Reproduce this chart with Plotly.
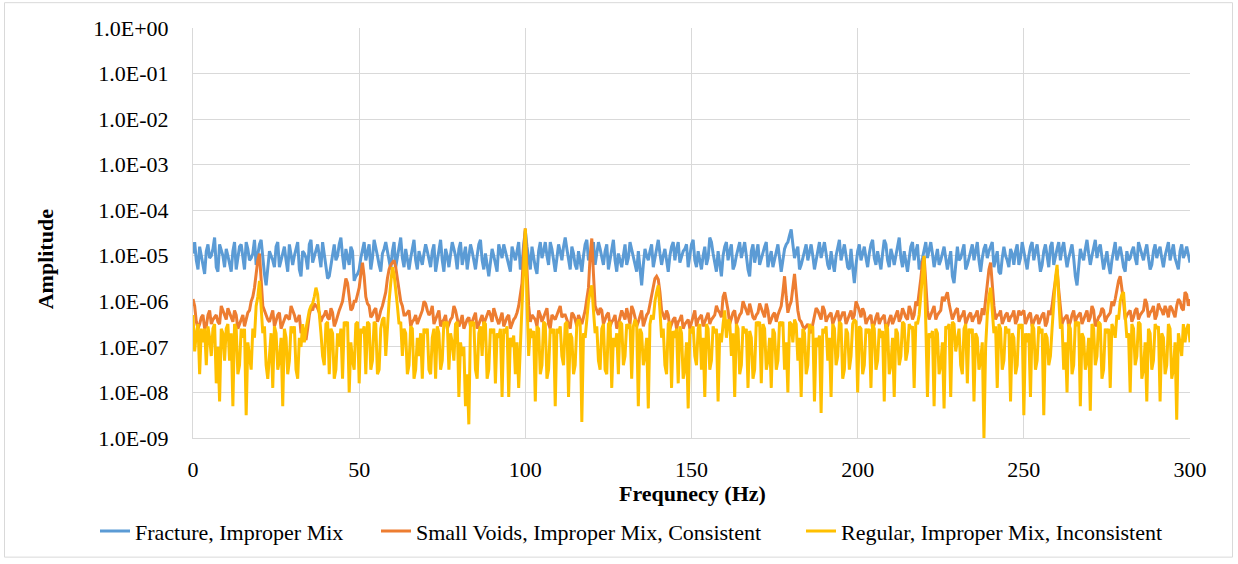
import plotly.graph_objects as go

# Frequency samples (Hz): whole-Hz and half-Hz positions
freq_whole = list(range(0, 301))
freq_half = [i + 0.5 for i in range(0, 300)]

# log10(amplitude) values, at whole-Hz positions
fracture_whole = [
-4.95,-5.1,-4.8,-5.2,-4.9,-5.05,-4.85,-5.25,-4.75,-5.0,
-4.85,-5.15,-4.9,-5.3,-4.8,-5.05,-4.7,-5.1,-4.95,-5.2,
-4.75,-5.05,-5.65,-4.9,-5.1,-4.8,-5.25,-4.95,-5.1,-4.75,
-5.2,-4.85,-5.3,-4.9,-5.05,-4.75,-5.15,-4.85,-5.0,-4.7,
-5.25,-5.45,-4.9,-5.1,-4.75,-5.0,-4.85,-5.2,-4.9,-5.45,
-5.3,-4.85,-5.1,-4.75,-5.05,-4.8,-5.2,-4.95,-4.7,-5.1,
-4.9,-5.25,-4.75,-5.05,-4.85,-5.3,-4.8,-5.1,-4.9,-5.2,
-4.75,-5.05,-4.9,-5.35,-4.8,-5.1,-4.85,-5.25,-4.7,-5.0,
-4.85,-5.2,-4.8,-5.05,-4.9,-5.3,-4.75,-5.1,-4.95,-5.45,
-4.85,-5.15,-4.75,-5.05,-4.9,-5.25,-4.8,-5.1,-4.7,-5.2,
-4.45,-5.1,-4.8,-5.25,-4.9,-5.05,-4.7,-5.2,-4.85,-5.35,
-4.75,-5.1,-4.6,-5.05,-4.8,-5.2,-4.9,-5.35,-4.75,-5.1,
-4.85,-5.2,-4.7,-5.0,-4.9,-5.3,-4.8,-5.1,-4.95,-5.25,
-4.75,-5.05,-4.85,-5.2,-4.9,-5.65,-4.85,-5.1,-4.75,-5.05,
-4.65,-5.2,-4.85,-5.35,-4.8,-5.1,-4.7,-5.0,-4.85,-5.25,
-4.75,-5.1,-4.9,-5.3,-4.8,-5.05,-4.7,-5.2,-4.9,-5.45,
-4.8,-5.1,-4.75,-5.2,-4.85,-5.05,-4.7,-5.3,-4.9,-5.15,
-4.75,-5.05,-4.8,-5.25,-4.9,-5.1,-4.75,-5.35,-4.85,-4.7,
-4.42,-5.05,-4.8,-5.2,-4.9,-5.1,-4.75,-5.3,-4.85,-5.05,
-4.7,-5.2,-4.9,-5.35,-4.8,-5.1,-4.75,-5.25,-4.85,-5.6,
-4.9,-5.1,-4.8,-5.25,-4.75,-5.05,-4.9,-5.3,-4.65,-5.1,
-4.85,-5.2,-4.75,-5.05,-4.9,-5.35,-4.8,-5.1,-4.75,-5.2,
-4.9,-5.05,-4.7,-5.25,-4.85,-5.1,-4.8,-5.3,-4.9,-5.6,
-4.8,-5.05,-4.75,-5.2,-4.9,-5.1,-4.7,-5.35,-4.85,-5.05,
-4.8,-5.25,-4.9,-5.4,-4.8,-5.1,-4.85,-5.2,-4.75,-5.05,
-4.9,-5.3,-4.8,-5.1,-4.75,-5.35,-4.9,-5.05,-4.8,-5.2,
-4.85,-5.1,-4.7,-5.25,-4.9,-5.05,-5.65,-4.85,-5.1,-4.65,
-5.2,-4.8,-5.05,-4.75,-5.3,-4.9,-5.4,-4.85,-5.1,-4.8,
-5.25,-4.9,-5.05,-4.8,-5.2,-4.85,-5.1,-4.75,-5.3,-4.9,
-5.05,-4.8,-5.25,-4.85,-5.1,-4.75,-5.2,-4.9,-5.05,-4.8,
-5.15]

# log10(amplitude) at half-Hz positions (0.5, 1.5, ... 299.5)
fracture_half = [
-4.7,-5.3,-5.0,-5.4,-4.75,-5.0,-4.6,-5.35,-4.9,-5.25,
-5.0,-5.35,-4.7,-5.05,-4.75,-5.3,-4.85,-5.05,-4.65,-4.95,
-4.65,-5.4,-5.3,-5.0,-5.25,-4.7,-5.1,-4.8,-5.35,-4.95,
-5.0,-4.7,-5.45,-4.95,-5.3,-4.65,-5.0,-4.75,-5.25,-4.95,
-5.5,-5.2,-4.75,-5.0,-4.6,-5.3,-5.0,-4.8,-5.55,-5.4,
-5.05,-4.7,-4.9,-5.3,-4.65,-5.0,-5.35,-4.85,-4.9,-5.3,
-4.7,-5.0,-4.6,-5.25,-5.1,-5.05,-4.65,-5.3,-5.05,-4.95,
-4.9,-5.25,-4.75,-5.1,-4.65,-5.35,-5.0,-4.95,-4.85,-5.3,
-4.7,-5.0,-5.3,-4.75,-5.1,-5.0,-4.65,-5.3,-5.2,-5.15,
-5.0,-5.35,-4.9,-4.75,-5.1,-5.35,-4.95,-4.9,-5.3,-4.75,
-4.8,-5.3,-5.05,-5.4,-4.7,-4.9,-5.0,-4.7,-5.1,-5.05,
-4.9,-4.8,-4.85,-5.3,-4.95,-5.3,-5.1,-5.0,-4.65,-5.0,
-4.7,-4.95,-4.85,-5.2,-4.75,-5.05,-4.65,-5.35,-5.1,-5.0,
-5.2,-4.7,-5.0,-5.35,-5.3,-5.2,-5.0,-4.9,-5.25,-4.85,
-4.95,-5.0,-5.1,-5.0,-4.7,-4.85,-5.15,-4.9,-4.75,-5.0,
-4.65,-5.25,-5.1,-5.0,-5.2,-4.6,-4.95,-5.35,-5.2,-5.0,
-4.7,-4.9,-5.3,-5.0,-4.7,-4.85,-5.0,-5.45,-4.75,-4.95,
-5.2,-4.95,-4.7,-5.05,-5.25,-4.9,-5.05,-5.1,-4.75,-4.55,
-4.75,-4.9,-5.3,-5.05,-4.75,-4.95,-5.0,-5.1,-4.7,-4.9,
-4.95,-5.3,-5.15,-5.0,-4.65,-4.9,-5.0,-5.3,-5.25,-5.2,
-4.75,-4.95,-5.05,-4.95,-4.65,-5.2,-5.1,-4.95,-4.75,-5.25,
-5.0,-5.0,-4.6,-5.25,-5.1,-5.05,-4.7,-4.9,-5.3,-5.05,
-4.7,-4.85,-4.95,-5.05,-5.2,-4.95,-5.05,-5.1,-5.45,-5.2,
-5.1,-4.9,-5.3,-5.05,-4.75,-4.85,-5.1,-5.05,-4.75,-4.9,
-4.7,-5.05,-5.35,-5.05,-5.0,-5.25,-4.95,-4.9,-5.2,-4.7,
-5.1,-5.0,-4.7,-4.9,-5.05,-5.2,-4.75,-5.25,-4.7,-5.0,
-4.7,-4.85,-5.0,-5.05,-4.75,-5.45,-5.25,-5.0,-4.85,-4.95,
-5.0,-4.65,-4.85,-5.05,-5.1,-5.2,-5.1,-4.7,-4.95,-5.0,
-5.35,-5.1,-4.9,-5.05,-4.7,-5.0,-4.9,-5.05,-5.2,-4.75,
-4.9,-5.05,-5.0,-4.7,-4.95,-5.05,-5.3,-4.75,-4.95,-5.0]

small_voids_whole = [
-5.95,-6.45,-6.5,-6.3,-6.55,-6.2,-6.4,-6.3,-6.5,-6.2,
-6.4,-6.25,-6.45,-6.3,-6.5,-6.3,-6.4,-6.2,-5.9,-5.4,
-4.95,-6.1,-6.3,-6.45,-6.2,-6.4,-6.25,-6.5,-6.3,-6.4,
-6.2,-6.45,-6.3,-6.6,-6.85,-6.3,-6.2,-6.1,-6.25,-6.35,
-6.2,-6.4,-6.25,-6.45,-6.2,-6.0,-5.5,-5.9,-6.15,-6.0,
-5.7,-5.15,-5.9,-6.1,-6.3,-6.15,-6.35,-6.1,-5.8,-5.3,
-5.15,-5.25,-5.75,-6.1,-6.3,-6.2,-6.45,-6.3,-6.4,-6.2,
-6.05,-6.3,-6.1,-6.4,-6.2,-6.45,-6.3,-6.5,-6.35,-6.2,
-6.55,-6.3,-6.5,-6.35,-6.45,-6.25,-6.5,-6.3,-6.4,-6.2,
-6.45,-6.3,-6.5,-6.25,-6.45,-6.3,-6.5,-6.35,-6.1,-5.6,
-4.4,-6.1,-6.3,-6.4,-6.2,-6.45,-6.25,-6.5,-6.3,-6.4,
-6.2,-6.35,-6.3,-6.5,-6.25,-6.4,-6.3,-6.5,-6.2,-5.7,
-4.62,-6.1,-6.3,-6.2,-6.4,-6.25,-6.45,-6.3,-6.5,-6.2,
-6.4,-6.3,-6.1,-6.35,-6.45,-6.2,-6.4,-6.25,-5.9,-5.5,
-5.52,-6.2,-6.4,-6.3,-6.5,-6.35,-6.45,-6.3,-6.5,-6.4,
-6.45,-6.2,-6.4,-6.3,-6.45,-6.25,-6.4,-6.3,-6.2,-6.35,
-5.8,-6.2,-6.35,-6.2,-6.4,-6.25,-6.1,-6.3,-6.2,-6.4,
-6.25,-6.15,-6.35,-6.2,-6.4,-6.25,-6.3,-6.1,-5.45,-6.25,
-6.0,-5.4,-6.2,-6.45,-6.6,-6.5,-6.7,-6.3,-6.2,-6.4,
-6.2,-6.35,-6.25,-6.4,-6.2,-6.35,-6.25,-6.4,-6.2,-6.3,
-6.1,-6.35,-6.25,-6.4,-6.3,-6.5,-6.25,-6.4,-6.3,-6.55,
-6.3,-6.4,-6.2,-6.35,-6.25,-6.4,-6.2,-6.3,-6.1,-5.5,
-5.02,-6.2,-6.3,-6.1,-6.3,-6.2,-6.0,-5.8,-6.2,-6.3,
-6.15,-6.35,-6.2,-6.4,-6.25,-6.35,-6.2,-6.4,-6.3,-5.6,
-5.15,-6.1,-6.3,-6.2,-6.4,-6.25,-6.35,-6.2,-6.4,-6.3,
-6.2,-6.4,-6.25,-6.45,-6.3,-6.4,-6.25,-6.45,-6.3,-5.8,
-5.3,-6.2,-6.4,-6.3,-6.45,-6.2,-6.35,-6.25,-6.4,-6.2,
-6.35,-6.2,-6.45,-6.3,-6.2,-6.35,-6.25,-6.1,-5.7,-5.45,
-6.0,-6.3,-6.2,-6.35,-6.15,-6.3,-6.2,-6.05,-6.25,-6.1,
-6.3,-6.15,-6.3,-6.2,-6.1,-6.25,-6.1,-6.0,-6.2,-5.85,
-5.95]

small_voids_half = [
-6.1,-6.6,-6.35,-6.6,-6.3,-6.5,-6.35,-6.45,-6.1,-6.3,
-6.15,-6.35,-6.2,-6.6,-6.4,-6.55,-6.25,-6.0,-5.7,-5.1,
-5.6,-6.2,-6.4,-6.3,-6.55,-6.3,-6.6,-6.4,-6.35,-6.1,
-6.3,-6.4,-6.7,-6.75,-6.6,-6.15,-6.05,-6.15,-6.45,-6.3,
-6.35,-6.15,-6.55,-6.3,-6.1,-5.75,-5.6,-6.2,-6.0,-5.85,
-5.4,-5.45,-6.05,-6.35,-6.2,-6.45,-6.2,-5.95,-5.5,-5.2,
-5.1,-5.5,-6.0,-6.3,-6.25,-6.55,-6.4,-6.5,-6.3,-6.0,
-6.2,-6.25,-6.5,-6.3,-6.55,-6.4,-6.6,-6.4,-6.1,-6.4,
-6.45,-6.6,-6.4,-6.55,-6.35,-6.6,-6.4,-6.5,-6.3,-6.3,
-6.15,-6.4,-6.35,-6.55,-6.35,-6.6,-6.4,-6.25,-5.85,-4.9,
-5.3,-6.45,-6.35,-6.55,-6.3,-6.35,-6.15,-6.6,-6.35,-6.3,
-6.1,-6.3,-6.4,-6.6,-6.3,-6.55,-6.4,-6.35,-5.95,-5.0,
-5.4,-6.2,-6.15,-6.5,-6.3,-6.55,-6.4,-6.6,-6.35,-6.3,
-6.15,-6.5,-6.2,-6.55,-6.3,-6.55,-6.3,-6.05,-5.7,-5.45,
-5.8,-6.3,-6.2,-6.6,-6.4,-6.6,-6.4,-6.6,-6.45,-6.6,
-6.3,-6.55,-6.35,-6.55,-6.35,-6.5,-6.35,-6.1,-6.25,-5.9,
-6.0,-6.5,-6.25,-6.5,-6.3,-6.0,-6.2,-6.05,-6.35,-6.3,
-6.05,-6.25,-6.05,-6.5,-6.3,-6.45,-6.2,-5.8,-5.9,-6.1,
-5.7,-5.8,-6.4,-6.55,-6.55,-6.6,-6.5,-6.15,-6.3,-6.1,
-6.45,-6.3,-6.5,-6.3,-6.45,-6.25,-6.5,-6.3,-6.4,-6.0,
-6.2,-6.15,-6.5,-6.35,-6.6,-6.35,-6.5,-6.35,-6.6,-6.4,
-6.5,-6.3,-6.45,-6.15,-6.35,-6.1,-6.4,-6.0,-5.85,-5.15,
-5.6,-6.4,-6.2,-6.4,-6.25,-5.9,-5.9,-6.05,-6.4,-6.2,
-6.45,-6.3,-6.5,-6.3,-6.45,-6.3,-6.5,-6.15,-5.95,-5.3,
-5.65,-6.4,-6.3,-6.5,-6.3,-6.45,-6.3,-6.5,-6.2,-6.25,
-6.5,-6.3,-6.55,-6.35,-6.5,-6.3,-6.55,-6.2,-6.1,-5.5,
-5.75,-6.5,-6.35,-6.55,-6.3,-6.45,-6.3,-6.5,-6.3,-6.45,
-6.1,-6.55,-6.35,-6.15,-6.45,-6.3,-6.0,-5.95,-5.55,-5.7,
-6.4,-6.25,-6.45,-6.2,-6.4,-6.25,-5.95,-6.35,-6.2,-6.4,
-6.05,-6.2,-6.1,-6.35,-6.15,-6.35,-5.95,-6.15,-5.8,-6.1]

regular_whole = [
-6.3,-6.7,-7.6,-6.9,-7.4,-6.8,-6.6,-7.8,-8.2,-6.7,
-6.6,-7.3,-8.3,-6.6,-7.4,-6.8,-8.5,-7.2,-6.6,-6.1,
-5.55,-6.7,-7.4,-7.2,-7.9,-6.7,-7.3,-8.3,-6.8,-7.3,
-6.7,-7.5,-6.8,-6.5,-6.6,-6.2,-6.05,-5.7,-6.2,-7.2,
-6.5,-7.6,-6.7,-7.5,-7.0,-7.7,-6.5,-8.0,-7.3,-6.5,
-7.8,-6.7,-7.6,-6.5,-7.3,-6.5,-7.5,-6.4,-7.2,-6.0,
-5.25,-5.7,-6.5,-7.2,-6.7,-7.4,-6.6,-7.5,-7.2,-7.7,
-6.7,-7.5,-6.8,-7.7,-6.7,-7.3,-6.5,-7.5,-6.9,-6.5,
-8.1,-7.2,-8.3,-8.7,-6.5,-7.5,-6.7,-7.2,-6.5,-7.5,
-6.7,-7.8,-6.8,-8.1,-6.7,-8.1,-7.0,-7.6,-7.9,-6.1,
-4.4,-7.2,-6.8,-8.2,-6.6,-7.4,-6.5,-7.5,-6.7,-8.3,
-6.7,-7.2,-6.5,-8.1,-6.8,-7.4,-6.4,-8.65,-6.8,-6.0,
-5.65,-6.7,-7.3,-6.6,-7.5,-6.5,-7.9,-7.0,-7.6,-6.5,
-7.2,-6.6,-7.7,-6.4,-8.3,-6.7,-7.2,-8.35,-6.3,-6.0,
-5.65,-6.8,-7.4,-6.5,-7.9,-6.8,-7.8,-6.7,-7.5,-8.35,
-6.7,-7.2,-6.6,-7.5,-8.1,-6.6,-7.3,-6.7,-8.2,-6.9,
-6.2,-6.4,-7.2,-8.1,-6.6,-7.4,-6.7,-7.9,-6.8,-7.5,
-6.5,-7.8,-6.6,-7.3,-7.9,-6.7,-7.3,-6.5,-7.5,-8.0,
-6.5,-6.4,-7.3,-8.1,-6.7,-7.4,-6.6,-8.2,-7.0,-8.45,
-6.7,-7.3,-8.1,-6.6,-7.2,-6.5,-7.5,-6.7,-7.2,-6.4,
-8.0,-6.6,-7.4,-6.7,-7.9,-6.6,-7.3,-6.8,-8.2,-6.6,
-7.4,-8.1,-6.7,-7.2,-6.5,-7.1,-6.6,-7.9,-6.5,-5.9,
-5.0,-8.1,-6.8,-8.3,-6.7,-7.4,-8.35,-6.6,-8.1,-6.5,
-6.8,-7.4,-6.6,-7.8,-6.7,-8.2,-6.8,-7.3,-9.0,-6.3,
-5.7,-6.7,-7.9,-6.6,-7.3,-6.7,-8.2,-6.8,-7.4,-6.6,
-8.5,-6.9,-8.1,-6.6,-7.3,-6.7,-8.5,-6.8,-7.2,-6.0,
-5.2,-6.6,-7.5,-8.0,-6.6,-7.4,-6.5,-8.3,-6.8,-7.3,
-8.4,-6.6,-7.2,-6.5,-7.5,-6.7,-7.9,-6.6,-6.3,-6.0,
-5.8,-6.8,-8.0,-6.6,-7.2,-6.5,-7.5,-8.2,-6.7,-7.3,
-6.6,-8.2,-6.8,-7.4,-6.6,-7.5,-8.6,-6.9,-6.5,-6.6,
-6.9]

regular_half = [
-7.1,-6.5,-6.6,-6.6,-6.55,-7.2,-6.5,-7.0,-6.6,-7.3,
-6.5,-6.7,-6.5,-7.6,-6.6,-6.6,-6.9,-7.5,-6.8,-5.9,
-6.2,-6.55,-7.7,-6.7,-6.55,-7.5,-6.8,-6.6,-7.6,-6.55,
-6.55,-7.7,-7.0,-6.9,-6.4,-6.1,-5.9,-5.85,-6.7,-7.4,
-6.45,-6.6,-7.7,-6.7,-6.6,-6.45,-6.45,-6.9,-7.5,-6.45,
-6.6,-6.55,-6.45,-7.5,-6.45,-7.6,-6.6,-6.35,-6.5,-5.6,
-5.4,-6.1,-6.45,-6.6,-7.6,-6.55,-7.7,-6.8,-6.7,-6.6,
-6.6,-7.6,-6.6,-6.55,-7.5,-6.45,-6.45,-6.7,-7.3,-6.45,
-6.9,-7.0,-7.6,-6.45,-6.45,-7.7,-6.55,-6.45,-7.7,-6.6,
-6.6,-6.7,-6.6,-6.6,-6.55,-6.8,-6.75,-6.9,-6.8,-5.3,
-6.0,-6.6,-6.65,-6.55,-7.6,-6.45,-7.7,-6.6,-6.6,-6.6,
-6.55,-7.4,-6.45,-6.7,-7.6,-6.5,-6.5,-6.7,-6.4,-5.8,
-6.2,-6.55,-7.5,-6.5,-7.6,-6.45,-6.8,-6.7,-6.45,-7.4,
-6.5,-6.5,-6.55,-6.5,-6.6,-7.4,-6.8,-6.5,-6.4,-5.8,
-6.2,-6.6,-7.6,-6.45,-6.65,-6.6,-6.55,-7.7,-6.9,-6.6,
-6.55,-7.4,-6.5,-6.8,-6.5,-7.5,-6.55,-6.6,-6.7,-6.5,
-6.8,-6.45,-6.7,-6.5,-7.6,-6.55,-6.6,-6.65,-7.7,-6.45,
-6.45,-6.5,-7.5,-6.8,-6.6,-7.5,-6.45,-6.45,-6.9,-6.45,
-6.9,-6.5,-6.8,-6.6,-7.6,-6.5,-6.55,-6.8,-6.75,-6.6,
-6.55,-6.8,-6.5,-7.4,-6.45,-7.7,-6.6,-7.5,-6.5,-6.45,
-6.55,-7.6,-6.6,-6.6,-6.5,-7.5,-6.6,-6.65,-6.5,-7.6,
-6.8,-6.6,-7.4,-6.45,-7.3,-6.5,-6.55,-6.45,-6.3,-5.4,
-6.5,-6.7,-6.65,-6.6,-7.6,-6.9,-6.55,-6.5,-6.45,-7.1,
-6.6,-7.6,-6.5,-6.6,-6.6,-6.7,-7.5,-6.9,-7.0,-5.9,
-6.2,-6.55,-6.5,-7.5,-6.55,-6.6,-6.7,-7.6,-6.5,-6.5,
-6.7,-6.7,-6.5,-7.5,-6.55,-6.6,-6.7,-7.4,-6.6,-5.5,
-5.9,-6.5,-6.9,-6.5,-7.6,-6.45,-6.45,-6.7,-7.5,-6.8,
-6.5,-7.4,-6.45,-7.7,-6.6,-6.6,-6.5,-6.8,-6.4,-5.85,
-6.3,-6.7,-6.5,-7.4,-6.45,-7.7,-6.9,-6.6,-7.5,-6.5,
-6.55,-6.7,-7.6,-6.5,-7.7,-6.9,-6.7,-7.2,-6.9,-6.5]

series_names = [
    "Fracture, Improper Mix",
    "Small Voids, Improper Mix, Consistent",
    "Regular, Improper Mix, Inconsistent",
]
series_colors = ["#5B9BD5", "#ED7D31", "#FFC000"]

y_tick_vals = [1e0, 1e-1, 1e-2, 1e-3, 1e-4, 1e-5, 1e-6, 1e-7, 1e-8, 1e-9]
y_tick_text = ["1.0E+00", "1.0E-01", "1.0E-02", "1.0E-03", "1.0E-04",
               "1.0E-05", "1.0E-06", "1.0E-07", "1.0E-08", "1.0E-09"]
x_tick_vals = [0, 50, 100, 150, 200, 250, 300]

FONT = "Liberation Serif"
FS = 22

W, H = 1238, 564
L, R, T, B = 193, 1190, 28, 441
pw, ph = R - L, B - T

def px(xp):
    return (xp - L) / pw

def py(yp):
    return (B - yp) / ph

def merge(whole, half):
    pts = sorted(zip(freq_whole + freq_half, whole + half))
    return [p[0] for p in pts], [10 ** p[1] for p in pts]

legend_keys = ["legend", "legend2", "legend3"]
legend_left_px = [95, 376, 801]

fig = go.Figure()
for name, color, (wh, hf), lk in zip(
        series_names, series_colors,
        [(fracture_whole, fracture_half), (small_voids_whole, small_voids_half),
         (regular_whole, regular_half)], legend_keys):
    xs, ys = merge(wh, hf)
    fig.add_trace(go.Scatter(
        x=xs, y=ys, mode="lines", name=name, legend=lk,
        line=dict(color=color, width=3), hoverinfo="x+y"))

legend_common = dict(orientation="h", yanchor="middle", xanchor="left",
                     y=py(535), font=dict(family=FONT, size=FS, color="#000000"),
                     itemwidth=30, bgcolor="rgba(0,0,0,0)", borderwidth=0)

fig.update_layout(
    width=W, height=H,
    margin=dict(l=L, r=W - R, t=T, b=H - B),
    paper_bgcolor="white", plot_bgcolor="white",
    font=dict(family=FONT, size=FS, color="#000000"),
    showlegend=True,
    legend=dict(x=px(legend_left_px[0]), **legend_common),
    legend2=dict(x=px(legend_left_px[1]), **legend_common),
    legend3=dict(x=px(legend_left_px[2]), **legend_common),
    xaxis=dict(range=[0, 300], tickvals=x_tick_vals, showgrid=True,
               gridcolor="#D9D9D9", gridwidth=1, zeroline=False,
               showline=True, linecolor="#D9D9D9", linewidth=1,
               ticks="", ticklabelstandoff=12,
               tickfont=dict(family=FONT, size=FS, color="#000000")),
    yaxis=dict(type="log", range=[-9, 0], tickvals=y_tick_vals, ticktext=y_tick_text,
               showgrid=True, gridcolor="#D9D9D9", gridwidth=1, zeroline=False,
               showline=True, linecolor="#D9D9D9", linewidth=1,
               ticks="", ticklabelstandoff=19,
               tickfont=dict(family=FONT, size=FS, color="#000000")),
    annotations=[
        dict(text="<b>Frequnecy (Hz)</b>", xref="paper", yref="paper",
             x=px(692), y=py(497), xanchor="center", yanchor="middle",
             showarrow=False, font=dict(family=FONT, size=FS, color="#000000")),
        dict(text="<b>Amplitude</b>", xref="paper", yref="paper",
             x=px(45), y=py(261), xanchor="center", yanchor="middle", textangle=-90,
             showarrow=False, font=dict(family=FONT, size=FS, color="#000000")),
    ],
    shapes=[
        dict(type="rect", xref="paper", yref="paper",
             x0=px(4.5), x1=px(1232.5), y0=py(2.5), y1=py(561),
             line=dict(color="#D9D9D9", width=1), fillcolor="rgba(0,0,0,0)", layer="below"),
    ],
)

fig.write_html("out.html")
